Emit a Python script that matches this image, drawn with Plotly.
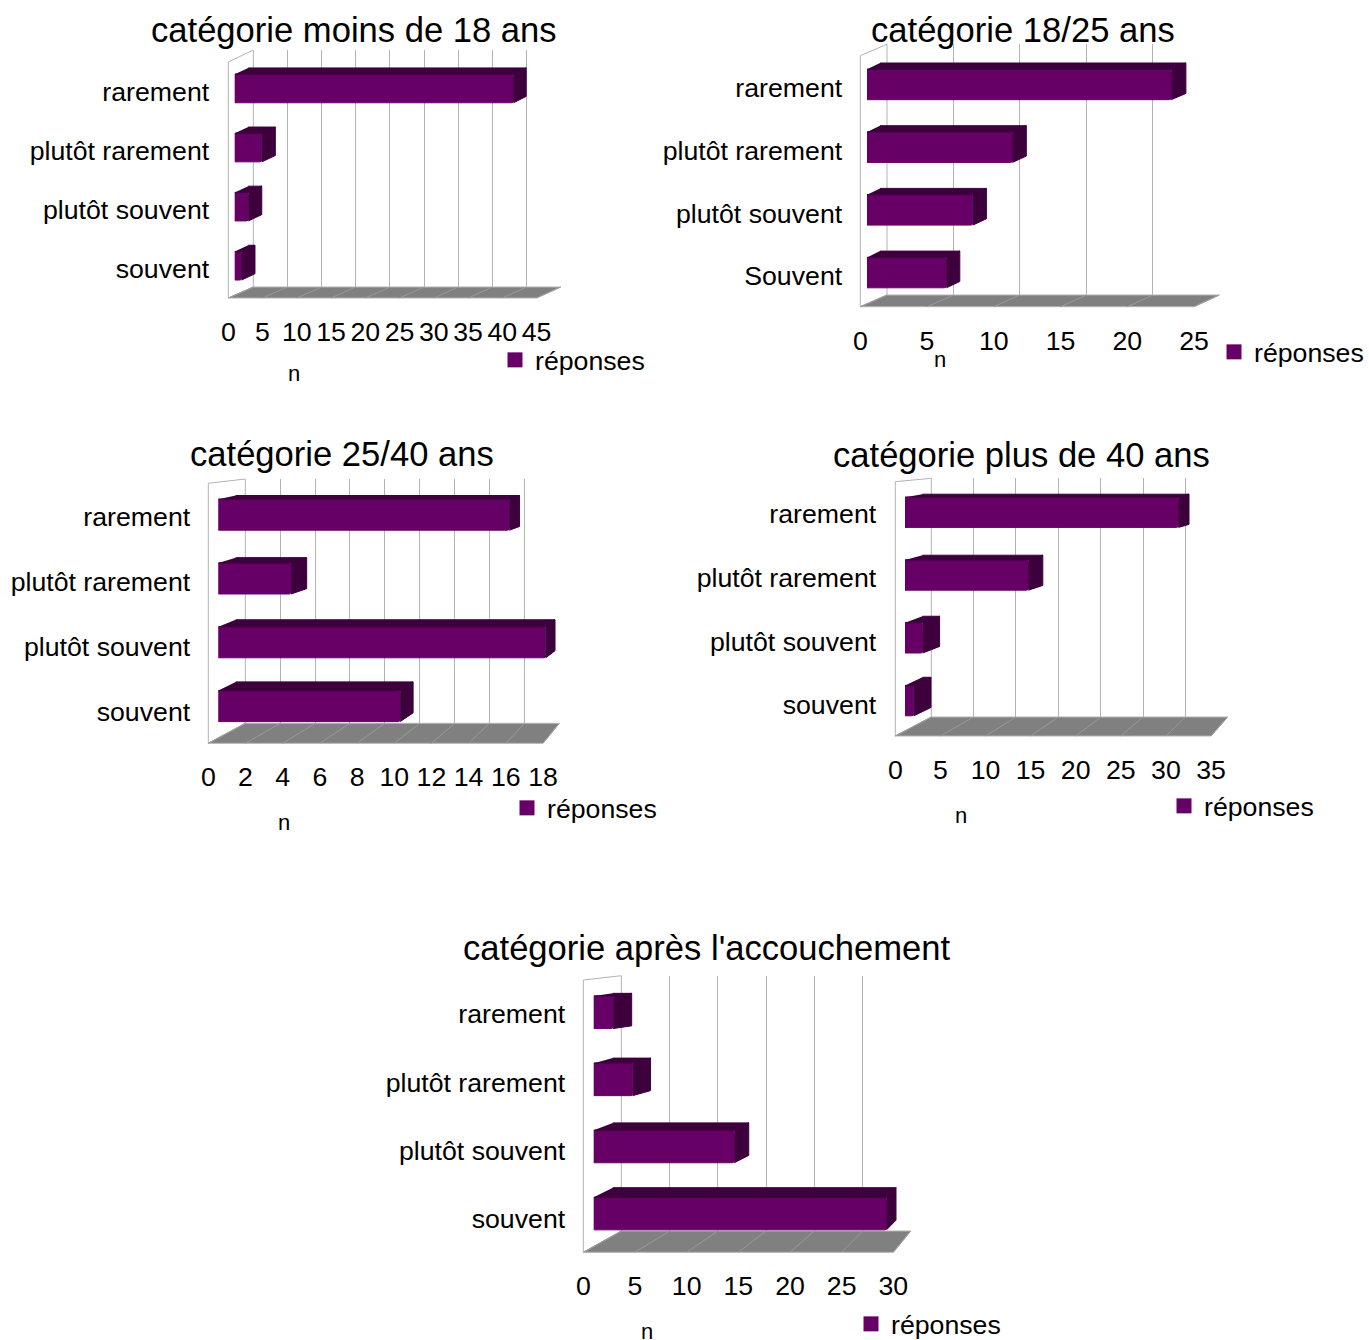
import plotly.graph_objects as go

FONT = "Liberation Sans"
W, H = 1420, 1400
FRONT, DARK, FLOOR = "#660066", "#3d003d", "#808080"

titles = ["catégorie moins de 18 ans", "catégorie 18/25 ans", "catégorie 25/40 ans",
          "catégorie plus de 40 ans", "catégorie après l'accouchement"]
categories_a = ["rarement", "plutôt rarement", "plutôt souvent", "souvent"]
categories_b = ["rarement", "plutôt rarement", "plutôt souvent", "Souvent"]
values_moins18 = [41, 4, 2, 1]
values_18_25 = [23, 11, 8, 6]
values_25_40 = [16, 4, 18, 10]
values_plus40 = [31, 14, 2, 1]
values_apres = [2, 4, 14.4, 30]
ticks_moins18 = [0, 5, 10, 15, 20, 25, 30, 35, 40, 45]
ticks_18_25 = [0, 5, 10, 15, 20, 25]
ticks_25_40 = [0, 2, 4, 6, 8, 10, 12, 14, 16, 18]
ticks_plus40 = [0, 5, 10, 15, 20, 25, 30, 35]
ticks_apres = [0, 5, 10, 15, 20, 25, 30]
series_name = "réponses"
axis_name = "n"

# layout geometry of each pseudo-3D panel, in pixels
panels = [
    dict(cats=categories_a, vals=values_moins18, ticks=ticks_moins18,
         fl=228.3, fr=536.5, ft=62, fb=298, bl=253.3, br=560.7, bt=50, bb=287,
         x0=234.7, s=6.8, L=13.5, k=6.78, c0=88.5, sp=59.1, h=28.5, dy0=6.3, dyi=0,
         lab=[92, 151, 210, 269], labr=209, title=(354, 30), leg=(535, 360), n=(294, 373)),
    dict(cats=categories_b, vals=values_18_25, ticks=ticks_18_25,
         fl=860.3, fr=1194, ft=55.7, fb=306.7, bl=887, br=1219.3, bt=44.3, bb=295,
         x0=867, s=13.23, L=13, k=13.3, c0=84.5, sp=62.7, h=30.4, dy0=6.3, dyi=0,
         lab=[88, 151, 213, 276], labr=842, title=(1023, 30), leg=(1254, 352), n=(940, 360)),
    dict(cats=categories_a, vals=values_25_40, ticks=ticks_25_40,
         fl=208.3, fr=543, ft=483.3, fb=743.3, bl=245.3, br=559.3, bt=479, bb=723.3,
         x0=218.3, s=18.19, L=17.4, k=17.74, c0=514.7, sp=63.8, h=31, dy0=3.7, dyi=1.67,
         lab=[517, 582, 647, 712], labr=190, title=(342, 454), leg=(547, 808), n=(284, 822)),
    dict(cats=categories_a, vals=values_plus40, ticks=ticks_plus40,
         fl=895.3, fr=1211, ft=481.7, fb=736, bl=931.3, br=1227.7, bt=478.3, bb=717,
         x0=905, s=8.82, L=17.4, k=8.6, c0=512.3, sp=62.8, h=30.2, dy0=3, dyi=1.77,
         lab=[514, 578, 642, 705], labr=876, title=(1021, 455), leg=(1204, 806), n=(961, 815)),
    dict(cats=categories_a, vals=values_apres, ticks=ticks_apres,
         fl=583.3, fr=893.3, ft=980, fb=1252.3, bl=621.3, br=910.7, bt=975.7, bb=1231,
         x0=593.7, s=9.76, L=19.1, k=9.44, c0=1012.3, sp=67.1, h=32.5, dy0=2.7, dyi=2.33,
         lab=[1014, 1082, 1151, 1219], labr=565, title=(707, 948), leg=(891, 1324), n=(647, 1331)),
]


def px(x):
    return x / W


def py(y):
    return 1 - y / H


fig = go.Figure()
layout = dict(template="none", width=W, height=H, margin=dict(l=0, r=0, t=0, b=0), autosize=False,
              paper_bgcolor="white", plot_bgcolor="rgba(0,0,0,0)",
              font=dict(family=FONT, size=26.7, color="#000000"),
              barmode="overlay", hovermode=False)
shapes, annotations = [], []

for n, p in enumerate(panels):
    vmax = p["ticks"][-1]
    back_x, back_y = 3 * n + 1, 3 * n + 1
    front_x, front_y = 3 * n + 2, 3 * n + 2
    bar_x, bar_y = 3 * n + 3, 3 * n + 3

    # left wall and floor
    shapes.append(dict(type="path", xref="paper", yref="paper", layer="below",
                       path=f"M{px(p['fl'])},{py(p['fb'])} L{px(p['fl'])},{py(p['ft'])} "
                            f"L{px(p['bl'])},{py(p['bt'])} L{px(p['bl'])},{py(p['bb'])} Z",
                       fillcolor="white", line=dict(color="#b3b3b3", width=1)))
    shapes.append(dict(type="path", xref="paper", yref="paper", layer="below",
                       path=f"M{px(p['fl'])},{py(p['fb'])} L{px(p['bl'])},{py(p['bb'])} "
                            f"L{px(p['br'])},{py(p['bb'])} L{px(p['fr'])},{py(p['fb'])} Z",
                       fillcolor=FLOOR, line=dict(color="#b3b3b3", width=1)))
    for t in p["ticks"]:
        f = t / vmax
        xf = p["fl"] + f * (p["fr"] - p["fl"])
        xb = p["bl"] + f * (p["br"] - p["bl"])
        shapes.append(dict(type="line", xref="paper", yref="paper", layer="below",
                           x0=px(xf), y0=py(p["fb"]), x1=px(xb), y1=py(p["bb"]),
                           line=dict(color="#9a9a9a", width=1)))

    # back wall: real gridlines of a value axis
    layout[f"xaxis{back_x}"] = dict(domain=[px(p["bl"]), px(p["br"])], range=[0, vmax],
                                    tickvals=p["ticks"], showticklabels=False, ticks="",
                                    showgrid=True, gridcolor="#b3b3b3", gridwidth=1,
                                    zeroline=False, automargin=False, anchor=f"y{back_y}")
    layout[f"yaxis{back_y}"] = dict(domain=[py(p["bb"]), py(p["bt"])], range=[0, 1],
                                    visible=False, automargin=False, anchor=f"x{back_x}")
    fig.add_trace(go.Scatter(x=[None], y=[None], xaxis=f"x{back_x}", yaxis=f"y{back_y}",
                             showlegend=False))

    # tick labels in the front plane
    sl = (p["lab"][-1] - p["lab"][0]) / 3
    layout[f"xaxis{front_x}"] = dict(domain=[px(p["fl"]), px(p["fr"])], range=[0, vmax],
                                     tickvals=p["ticks"], ticktext=[str(t) for t in p["ticks"]],
                                     tickangle=0, ticks="outside", ticklen=10, automargin=False,
                                     tickcolor="rgba(0,0,0,0)", showgrid=False, zeroline=False,
                                     showline=False, anchor="free", position=py(p["fb"]),
                                     tickfont=dict(size=26.7))
    layout[f"yaxis{front_y}"] = dict(domain=[py(p["lab"][-1] + sl / 2), py(p["lab"][0] - sl / 2)],
                                     range=[3.5, -0.5], tickvals=list(range(len(p["cats"]))),
                                     ticktext=p["cats"], ticks="outside", automargin=False,
                                     ticklen=p["fl"] - p["labr"] - 5.5,
                                     tickcolor="rgba(0,0,0,0)", showgrid=False, zeroline=False,
                                     showline=False, anchor="free", position=px(p["fl"]),
                                     tickfont=dict(size=26.7))
    fig.add_trace(go.Scatter(x=[None], y=[None], xaxis=f"x{front_x}", yaxis=f"y{front_y}",
                             showlegend=False))

    # bars
    xmax = vmax * 1.12
    layout[f"xaxis{bar_x}"] = dict(domain=[px(p["x0"]), px(p["x0"] + p["s"] * xmax)],
                                   range=[0, xmax], visible=False, automargin=False,
                                   anchor=f"y{bar_y}")
    layout[f"yaxis{bar_y}"] = dict(domain=[py(p["c0"] + 3.5 * p["sp"]), py(p["c0"] - 0.5 * p["sp"])],
                                   range=[3.5, -0.5], visible=False, automargin=False,
                                   anchor=f"x{bar_x}")
    sx, sy = [], []
    half = p["h"] / p["sp"] / 2
    for i, v in enumerate(p["vals"]):
        back_v = (p["L"] + p["k"] * v) / p["s"]
        back_0 = p["L"] / p["s"]
        dy = (p["dy0"] + p["dyi"] * i) / p["sp"]
        sx += [0, v, back_v, back_0, None, v, back_v, back_v, v, None]
        sy += [i - half, i - half, i - half - dy, i - half - dy, None,
               i - half, i - half - dy, i + half - dy, i + half, None]
    fig.add_trace(go.Scatter(x=sx, y=sy, xaxis=f"x{bar_x}", yaxis=f"y{bar_y}", mode="lines",
                             fill="toself", fillcolor=DARK, line=dict(color=DARK, width=1),
                             showlegend=False, cliponaxis=False))
    legend_key = "legend" if n == 0 else f"legend{n + 1}"
    fig.add_trace(go.Bar(x=p["vals"], y=list(range(len(p["vals"]))), orientation="h",
                         width=p["h"] / p["sp"], name=series_name,
                         marker=dict(color=FRONT, line=dict(color=FRONT, width=1), cornerradius=2),
                         xaxis=f"x{bar_x}", yaxis=f"y{bar_y}", cliponaxis=False,
                         showlegend=False))
    fig.add_trace(go.Scatter(x=[None], y=[None], mode="markers", name=series_name,
                             marker=dict(symbol="square", size=15, color=FRONT),
                             xaxis=f"x{bar_x}", yaxis=f"y{bar_y}",
                             legend=legend_key, showlegend=True))
    layout[legend_key] = dict(x=px(p["leg"][0] - 40), y=py(p["leg"][1]), xanchor="left",
                              yanchor="middle", bgcolor="rgba(0,0,0,0)", itemwidth=30,
                              borderwidth=0, font=dict(family=FONT, size=26.7), itemclick=False,
                              itemdoubleclick=False)

    annotations.append(dict(text=titles[n], x=px(p["title"][0]), y=py(p["title"][1]),
                            xref="paper", yref="paper", xanchor="center", yanchor="middle",
                            showarrow=False, font=dict(family=FONT, size=34.6)))
    annotations.append(dict(text=axis_name, x=px(p["n"][0]), y=py(p["n"][1]),
                            xref="paper", yref="paper", xanchor="center", yanchor="middle",
                            showarrow=False, font=dict(family=FONT, size=22)))

layout["shapes"] = shapes
layout["annotations"] = annotations
fig.update_layout(**layout)
fig.write_html("out.html", config=dict(displayModeBar=False),
               post_script="document.body.style.margin='0';document.body.style.overflow='hidden';")
